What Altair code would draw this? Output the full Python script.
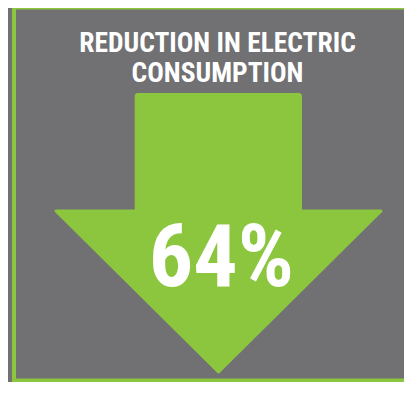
import altair as alt
import pandas as pd

# ---- content ----
title_lines = ["REDUCTION IN ELECTRIC", "CONSUMPTION"]
reduction_pct = [64]

# ---- shape geometry (canvas units) ----
shaft_x = [126.7, 294.0]
shaft_y = [85.0, 204.0]
head_x = [48.0, 210.5, 373.0]
head_y_top = [203.0, 203.0, 203.0]
head_y_bot = [203.0, 364.0, 203.0]
frame_x = [6.0, 440.0]
frame_y = [-0.5, 372.5]

W, H = 396, 374
GRAY = "#717073"
GREEN = "#8cc63f"
FONT = "Liberation Sans Narrow, Roboto Condensed, DejaVu Sans Condensed, sans-serif"

xs = alt.Scale(domain=[0, W], range=[0, W])
ys = alt.Scale(domain=[0, H], range=[0, H])

frame_df = pd.DataFrame({"x": [frame_x[0]], "x2": [frame_x[1]], "y": [frame_y[0]], "y2": [frame_y[1]]})
shaft_df = pd.DataFrame({"x": [shaft_x[0]], "x2": [shaft_x[1]], "y": [shaft_y[0]], "y2": [shaft_y[1]]})
head_df = pd.DataFrame({"x": head_x, "y": head_y_top, "y2": head_y_bot})
title_df = pd.DataFrame({"line": [i for i in range(len(title_lines))], "text": title_lines})
value_df = pd.DataFrame({"v": reduction_pct})
value_df["label"] = value_df["v"].astype(str) + "%"

frame = alt.Chart(frame_df).mark_rect(fill=None, stroke=GREEN, strokeWidth=4, clip=True).encode(
    x=alt.X("x:Q", scale=xs, axis=None), x2="x2:Q",
    y=alt.Y("y:Q", scale=ys, axis=None), y2="y2:Q",
)

shaft = alt.Chart(shaft_df).mark_rect(color=GREEN, cornerRadius=3).encode(
    x=alt.X("x:Q", scale=xs, axis=None), x2="x2:Q",
    y=alt.Y("y:Q", scale=ys, axis=None), y2="y2:Q",
)

head = alt.Chart(head_df).mark_area(
    color=GREEN, stroke=GREEN, strokeWidth=3, strokeJoin="round", interpolate="linear"
).encode(
    x=alt.X("x:Q", scale=xs, axis=None),
    y=alt.Y("y:Q", scale=ys, axis=None), y2="y2:Q",
)

title = alt.Chart(title_df).mark_text(
    font=FONT, fontWeight="bold", fontSize=27.5, color="white",
    align="center", baseline="alphabetic",
).encode(
    x=alt.value(209.5),
    y=alt.Y("line:Q", scale=alt.Scale(domain=[0, 1], range=[44, 74]), axis=None),
    text="text:N",
)

value = alt.Chart(value_df).mark_text(
    font=FONT, fontWeight="bold", fontSize=88, color="white",
    align="center", baseline="alphabetic",
).encode(
    x=alt.value(213.3),
    y=alt.value(278),
    text="label:N",
)

chart = alt.layer(frame, shaft, head, title, value).resolve_scale(y="independent").properties(
    width=W, height=H, padding=0, background=GRAY,
    autosize=alt.AutoSizeParams(type="none"),
).configure_view(stroke=None)

chart.save("out.html", embed_options={"renderer": "svg", "actions": False})
